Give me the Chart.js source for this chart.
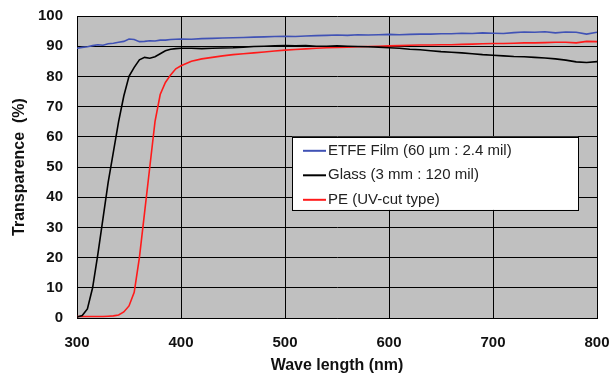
<!DOCTYPE html>
<html>
<head>
<meta charset="utf-8">
<script src="https://cdn.jsdelivr.net/npm/chart.js@4"></script>
<style>
  html, body { margin: 0; padding: 0; background: #fff; }
  #wrap { width: 611px; height: 380px; }
</style>
</head>
<body>
<div id="wrap"><canvas id="chart" width="611" height="380"></canvas></div>
<script>
// wavelengths (nm)
const wavelengths = [300, 305, 310, 315, 320, 325, 330, 335, 340, 345, 350, 355, 360, 365, 370, 375, 380, 385, 390, 395, 400,
  410, 420, 430, 440, 450, 460, 470, 480, 490, 500, 510, 520, 530, 540, 550, 560, 570, 580, 590, 600,
  610, 620, 630, 640, 650, 660, 670, 680, 690, 700, 710, 720, 730, 740, 750, 760, 770, 780, 790, 800];

// transparence (%)
const etfe = [89.3, 89.6, 89.8, 90.2, 90.5, 90.3, 90.8, 91.0, 91.3, 91.6, 92.4, 92.2, 91.5, 91.6, 91.8, 91.7, 92.0, 92.0, 92.2, 92.3, 92.4,
  92.3, 92.5, 92.6, 92.7, 92.8, 92.9, 93.0, 93.1, 93.2, 93.3, 93.2, 93.4, 93.5, 93.6, 93.7, 93.6, 93.8, 93.7, 93.8, 93.9,
  93.8, 93.9, 94.0, 94.0, 94.1, 94.1, 94.3, 94.2, 94.4, 94.3, 94.2, 94.5, 94.7, 94.6, 94.8, 94.4, 94.7, 94.6, 94.0, 94.6];
const glass = [0.3, 0.8, 3, 10, 21, 33, 45, 55, 65, 73.5, 80, 83, 85.5, 86.3, 86.0, 86.5, 87.5, 88.5, 89.0, 89.2, 89.3,
  89.3, 89.2, 89.3, 89.4, 89.5, 89.7, 89.9, 90.0, 90.1, 90.2, 90.1, 90.2, 90.0, 90.0, 90.1, 90.0, 89.9, 89.8, 89.7, 89.5,
  89.3, 89.0, 88.8, 88.5, 88.2, 88.0, 87.8, 87.5, 87.2, 87.0, 86.8, 86.6, 86.5, 86.3, 86.1, 85.8, 85.4, 84.8, 84.6, 84.9];
const pe = [0.5, 0.5, 0.5, 0.5, 0.5, 0.5, 0.6, 0.7, 1.0, 2.0, 4, 8.5, 20, 35, 50, 65, 74, 78, 80.5, 82.5, 83.5,
  85.0, 85.8, 86.3, 86.8, 87.2, 87.5, 87.8, 88.1, 88.4, 88.7, 88.9, 89.1, 89.3, 89.5, 89.6, 89.7, 89.8, 89.9, 90.0, 90.1,
  90.2, 90.3, 90.4, 90.4, 90.5, 90.5, 90.6, 90.7, 90.8, 90.9, 90.9, 91.0, 91.1, 91.1, 91.2, 91.3, 91.3, 91.1, 91.6, 91.5];

const seriesLabels = ["ETFE Film (60 µm : 2.4 mil)", "Glass (3 mm : 120 mil)", "PE (UV-cut type)"];
const seriesColors = ["#4052b5", "#000000", "#ff1a1a"];

const toPoints = (ys) => wavelengths.map((w, i) => ({ x: w, y: ys[i] }));

// gray plot background
const plotBg = {
  id: "plotBg",
  beforeDraw(chart) {
    const { ctx, chartArea: a } = chart;
    ctx.save();
    ctx.fillStyle = "#c0c0c0";
    ctx.fillRect(a.left, a.top, a.width, a.height);
    ctx.restore();
  },
};

// boxed legend inside the plot
const boxLegend = {
  id: "boxLegend",
  afterDatasetsDraw(chart) {
    const { ctx, chartArea: a } = chart;
    const x0 = a.left + a.width * 0.4135, x1 = a.left + a.width * 0.9635;
    const y0 = a.top + a.height * 0.4, y1 = a.top + a.height * 0.642;
    ctx.save();
    ctx.fillStyle = "#fff";
    ctx.fillRect(x0, y0, x1 - x0, y1 - y0);
    ctx.strokeStyle = "#000";
    ctx.lineWidth = 1;
    ctx.strokeRect(Math.round(x0) + 0.5, Math.round(y0) + 0.5, Math.round(x1 - x0), Math.round(y1 - y0));
    ctx.font = "15px 'Liberation Sans', Arial, sans-serif";
    ctx.textBaseline = "middle";
    chart.data.datasets.forEach((ds, i) => {
      const y = y0 + 14 + i * 24.5;
      ctx.strokeStyle = ds.borderColor;
      ctx.lineWidth = 2;
      ctx.beginPath();
      ctx.moveTo(x0 + 11, y);
      ctx.lineTo(x0 + 34, y);
      ctx.stroke();
      ctx.fillStyle = "#222";
      ctx.fillText(ds.label, x0 + 36, y);
    });
    ctx.restore();
  },
};

const tickFont = { family: "'Liberation Sans', Arial, sans-serif", size: 15, weight: "bold" };
const titleFont = { family: "'Liberation Sans', Arial, sans-serif", size: 16, weight: "bold" };

new Chart(document.getElementById("chart"), {
  type: "line",
  data: {
    datasets: [etfe, glass, pe].map((ys, i) => ({
      label: seriesLabels[i],
      data: toPoints(ys),
      borderColor: seriesColors[i],
      borderWidth: 1.6,
      pointRadius: 0,
      tension: 0,
      fill: false,
    })),
  },
  options: {
    responsive: false,
    animation: false,
    layout: { padding: { top: 16, right: 14, left: 0, bottom: 0 } },
    plugins: { legend: { display: false }, tooltip: { enabled: false } },
    scales: {
      x: {
        type: "linear",
        min: 300,
        max: 800,
        afterFit: (s) => { s.height = 62; s.paddingLeft = 0; s.paddingRight = 0; },
        ticks: { stepSize: 100, color: "#111", font: tickFont, padding: 16, maxRotation: 0 },
        grid: { color: "#000", lineWidth: 1, drawTicks: false },
        border: { color: "#000" },
        title: { display: true, text: "Wave length (nm)", color: "#111", font: titleFont, padding: { top: 0, bottom: 5 } },
      },
      y: {
        min: 0,
        max: 100,
        afterFit: (s) => { s.width = 77; s.paddingTop = 0; s.paddingBottom = 0; },
        ticks: { stepSize: 10, color: "#111", font: tickFont, padding: 14 },
        grid: { color: "#000", lineWidth: 1, drawTicks: false },
        border: { color: "#000" },
        title: { display: true, text: "Transparence  (%)", color: "#111", font: titleFont, padding: { top: 10, bottom: 0 } },
      },
    },
  },
  plugins: [plotBg, boxLegend],
});
</script>
</body>
</html>
